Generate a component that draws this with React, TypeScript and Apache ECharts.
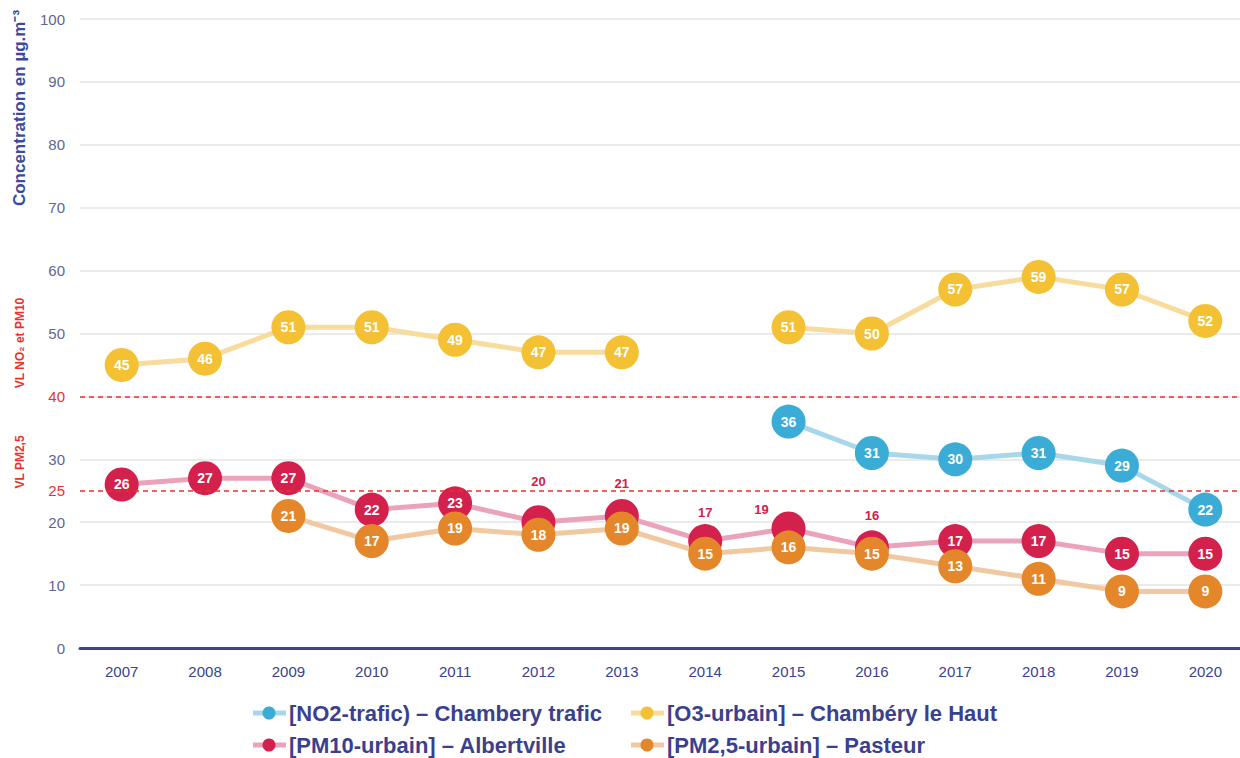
import React, { useEffect, useRef } from "react";
import * as echarts from "echarts";

const years = ["2007", "2008", "2009", "2010", "2011", "2012", "2013", "2014", "2015", "2016", "2017", "2018", "2019", "2020"];
const no2Trafic = [null, null, null, null, null, null, null, null, 36, 31, 30, 31, 29, 22];
const o3Urbain = [45, 46, 51, 51, 49, 47, 47, null, 51, 50, 57, 59, 57, 52];
const pm10Urbain = [26, 27, 27, 22, 23, 20, 21, 17, 19, 16, 17, 17, 15, 15];
const pm25Urbain = [null, null, 21, 17, 19, 18, 19, 15, 16, 15, 13, 11, 9, 9];
const limitNo2Pm10 = 40;
const limitPm25 = 25;
const seriesNames = [
  "[NO2-trafic) – Chambery trafic",
  "[O3-urbain] – Chambéry le Haut",
  "[PM10-urbain] – Albertville",
  "[PM2,5-urbain] – Pasteur",
];

const FONT = "'Liberation Sans', Arial, Helvetica, sans-serif";
const NAVY = "#3b3f8f";
const RED = "#e8332a";
const markerColors = ["#3aacd6", "#f3c133", "#d3204c", "#e3872a"];
const lineColors = ["#a9d7ea", "#f7dc9e", "#eaa3bb", "#f1c9a1"];

// label placement for PM10 points hidden under PM2.5 markers (style, keyed by year)
const pm10LabelOffsets: Record<string, number[]> = {
  "2012": [0, -12],
  "2013": [0, -4],
  "2014": [0, 0],
  "2015": [-27, 10],
  "2016": [0, -3],
};

export default function App() {
  const ref = useRef<HTMLDivElement>(null);
  useEffect(() => {
    if (!ref.current) return;
    const chart = echarts.init(ref.current, null, { renderer: "svg" });
    const allData = [no2Trafic, o3Urbain, pm10Urbain, pm25Urbain];

    const lineSeries = allData.map((d, i) => ({
      type: "line",
      name: seriesNames[i] + " line",
      data: d.map((v) => (v === null ? "-" : v)),
      showSymbol: false,
      symbol: "none",
      silent: true,
      z: 1,
      connectNulls: false,
      lineStyle: { color: lineColors[i], width: 5 },
    }));

    const markerSeries = allData.map((d, i) => ({
      type: "line",
      name: seriesNames[i],
      data: d.map((v, j) => {
        if (v === null) return "-";
        if (i === 2 && pm10LabelOffsets[years[j]]) {
          return {
            value: v,
            label: {
              position: "top",
              distance: 5,
              offset: pm10LabelOffsets[years[j]],
              color: markerColors[2],
              fontSize: 13,
            },
          };
        }
        return v;
      }),
      symbol: "circle",
      symbolSize: 34,
      showAllSymbol: true,
      silent: true,
      z: 3,
      connectNulls: false,
      lineStyle: { opacity: 0, width: 0 },
      itemStyle: { color: markerColors[i], opacity: 1 },
      label: {
        show: true,
        position: "inside",
        color: "#ffffff",
        fontSize: 14,
        fontWeight: "bold",
        fontFamily: FONT,
      },
      markLine:
        i === 2
          ? {
              silent: true,
              symbol: "none",
              animation: false,
              lineStyle: { color: RED, type: [5, 4], width: 1.5, opacity: 1 },
              data: [
                { yAxis: limitNo2Pm10, label: { show: false } },
                {
                  yAxis: limitPm25,
                  label: {
                    show: true,
                    position: "start",
                    formatter: String(limitPm25),
                    color: RED,
                    fontSize: 15,
                    fontFamily: FONT,
                    distance: 15,
                  },
                },
              ],
            }
          : undefined,
    }));

    const legendGraphics: any[] = [];
    const legendPos = [
      [253, 713],
      [631, 713],
      [253, 745],
      [631, 745],
    ];
    seriesNames.forEach((n, i) => {
      const [x, y] = legendPos[i];
      legendGraphics.push({
        type: "line",
        shape: { x1: x, y1: y, x2: x + 33, y2: y },
        style: { stroke: lineColors[i], lineWidth: 5 },
      });
      legendGraphics.push({
        type: "circle",
        shape: { cx: x + 16, cy: y, r: 6.5 },
        style: { fill: markerColors[i] },
      });
      legendGraphics.push({
        type: "text",
        x: x + 36,
        y: y,
        style: {
          text: n,
          fill: NAVY,
          font: `bold 22px ${FONT}`,
          textVerticalAlign: "middle",
          textAlign: "left",
        },
      });
    });

    chart.setOption({
      animation: false,
      backgroundColor: "#ffffff",
      grid: { left: 80, right: 3, top: 19, bottom: 110, containLabel: false },
      xAxis: {
        type: "category",
        data: years,
        boundaryGap: true,
        axisLine: { show: true, lineStyle: { color: "#3d4493", width: 3 } },
        axisTick: { show: false },
        axisLabel: { color: NAVY, fontSize: 15, fontFamily: FONT, margin: 16 },
        splitLine: { show: false },
      },
      yAxis: {
        type: "value",
        min: 0,
        max: 100,
        interval: 10,
        axisLine: { show: false },
        axisTick: { show: false },
        axisLabel: {
          fontSize: 15,
          fontFamily: FONT,
          margin: 15,
          color: (v: any) => (Number(v) === limitNo2Pm10 ? RED : "#5f6499"),
        },
        splitLine: { show: true, lineStyle: { color: "#e4e4e4", width: 1.5 } },
      },
      series: [...lineSeries, ...markerSeries],
      graphic: [
        {
          type: "text",
          x: 19,
          y: 108,
          rotation: Math.PI / 2,
          style: {
            text: "Concentration en µg.m⁻³",
            fill: "#3b4a9a",
            font: `bold 17px ${FONT}`,
            textAlign: "center",
            textVerticalAlign: "middle",
          },
        },
        {
          type: "text",
          x: 20,
          y: 343,
          rotation: Math.PI / 2,
          style: {
            text: "VL NO₂ et PM10",
            fill: RED,
            font: `bold 12px ${FONT}`,
            textAlign: "center",
            textVerticalAlign: "middle",
          },
        },
        {
          type: "text",
          x: 20,
          y: 462,
          rotation: Math.PI / 2,
          style: {
            text: "VL PM2,5",
            fill: RED,
            font: `bold 12px ${FONT}`,
            textAlign: "center",
            textVerticalAlign: "middle",
          },
        },
        ...legendGraphics,
      ],
    });
    return () => chart.dispose();
  }, []);
  return (
    <div
      style={{ position: "absolute", left: 0, top: 0, width: 1240, height: 758, overflow: "hidden" }}
    >
      <div ref={ref} style={{ width: 1250, height: 758 }} />
    </div>
  );
}
